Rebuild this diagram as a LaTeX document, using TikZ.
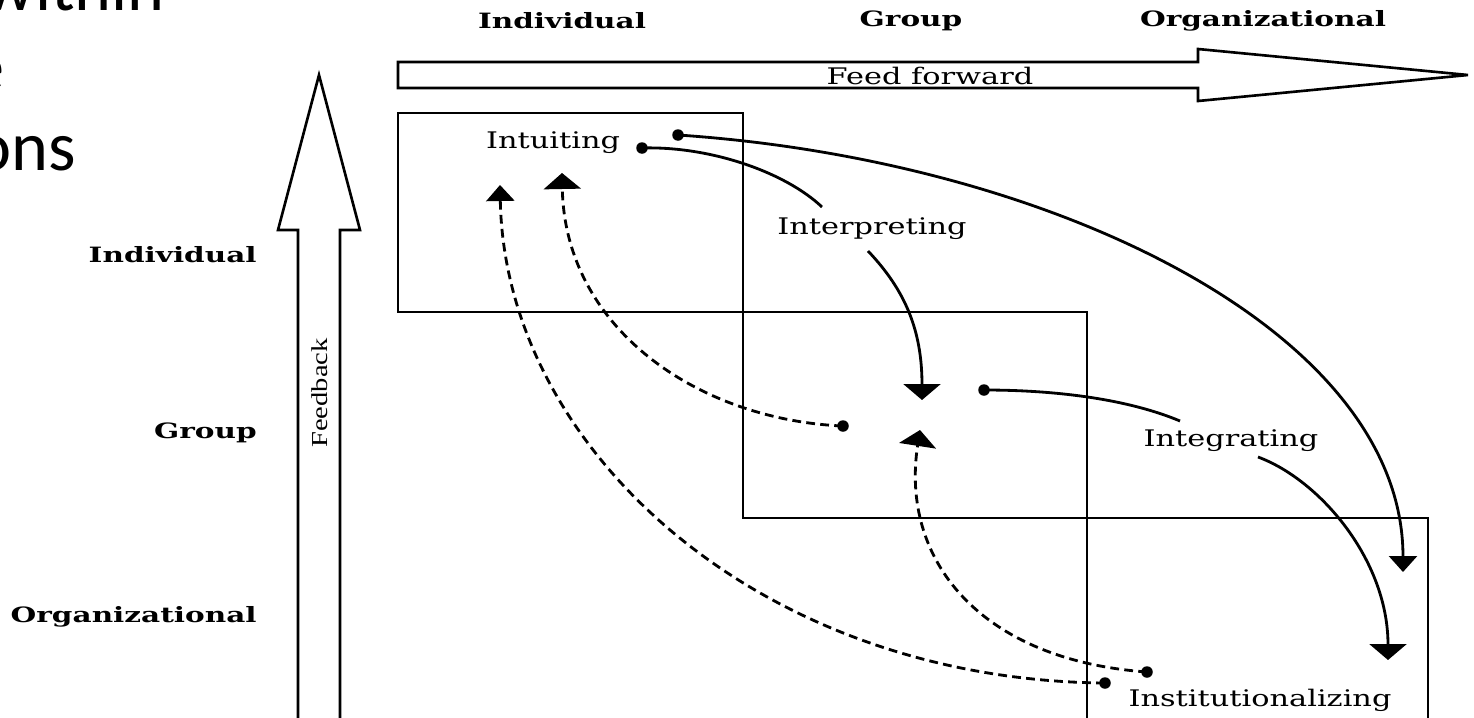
\documentclass[tikz,border=0pt]{standalone}
\usepackage{fontspec}
\usetikzlibrary{arrows.meta}
\newfontfamily\slabfont{DejaVu Serif}
\newfontfamily\slidefont{Carlito}
\newfontfamily\fbfont{Liberation Serif}
\newcommand{\slabtxt}[1]{\scalebox{1.33}[1]{\slabfont #1}}
\newcommand{\slabbold}[1]{\scalebox{1.4}[1]{\slabfont\bfseries #1}}
\begin{document}
\begin{tikzpicture}[x=0.02cm,y=-0.02cm,
  box/.style={draw, line width=1.3pt},
  blockarrow/.style={draw, line width=1.5pt, line join=miter},
  lbl/.style={inner sep=0pt, font=\fontsize{13}{15}\selectfont},
  lvl/.style={inner sep=0pt, font=\fontsize{12}{14}\selectfont},
  frag/.style={inner sep=0pt, anchor=base east, font=\slidefont\fontsize{40}{48}\selectfont},
  dotn/.style={circle, fill=black, inner sep=0pt, minimum size=0.23cm},
  flow/.style={line width=1.6pt},
  dflow/.style={line width=1.6pt, dash pattern=on 5pt off 3pt},
  bigtip/.style={-{Triangle[width=0.74cm,length=0.32cm]}},
  smalltip/.style={-{Triangle[width=0.56cm,length=0.32cm]}},
]
\useasboundingbox (0,0) rectangle (1474,717);
\clip (0,0) rectangle (1474,717);

% slide text fragments
\node[frag] (w1) at (165,10) {within};
\node[frag] (w2) at (5,90) {e};
\node[frag] (w3) at (76,170) {ons};

% level labels
\node[lvl] (tind) at (562,21) {\slabbold{Individual}};
\node[lvl] (tgrp) at (911,21) {\slabbold{Group}};
\node[lvl] (torg) at (1263,21) {\slabbold{Organizational}};
\node[lvl, anchor=east] (lind) at (257,255) {\slabbold{Individual}};
\node[lvl, anchor=east] (lgrp) at (257,433) {\slabbold{Group}};
\node[lvl, anchor=east] (lorg) at (257,617) {\slabbold{Organizational}};

% feed forward arrow
\draw[blockarrow] (398,62) -- (1198,62) -- (1198,49) -- (1468,75) -- (1198,101) -- (1198,88) -- (398,88) -- cycle;
\node[lbl] (ff) at (930,76) {\slabtxt{Feed forward}};

% feedback arrow
\draw[blockarrow] (298,740) -- (298,230) -- (278,230) -- (319,75) -- (360,230) -- (340,230) -- (340,740);
\node[rotate=90, inner sep=0pt, font=\fbfont\fontsize{13}{15}\selectfont] (fb) at (320,393) {\scalebox{1.25}[1]{Feedback}};

% boxes
\draw[box] (398,113) rectangle (743,312);
\draw[box] (743,312) rectangle (1087,518);
\draw[box] (1087,518) rectangle (1428,760);

% process labels
\node[lbl] (intu) at (553,143) {\slabtxt{Intuiting}};
\node[lbl] (interp) at (872,229) {\slabtxt{Interpreting}};
\node[lbl] (integ) at (1231,441) {\slabtxt{Integrating}};
\node[lbl] (inst) at (1260,700) {\slabtxt{Institutionalizing}};

% dots
\node[dotn] (d1) at (642,148) {};
\node[dotn] (d2) at (678,135) {};
\node[dotn] (d4) at (984,390) {};
\node[dotn] (d6) at (843,426) {};
\node[dotn] (d7) at (1105,683) {};
\node[dotn] (d8) at (1147,672) {};

% connector ends
\coordinate (e1) at (822,207);
\coordinate (e2) at (1403,572);
\coordinate (s3) at (868,251);
\coordinate (e3) at (922,400);
\coordinate (e4) at (1180,421);
\coordinate (s5) at (1258,457);
\coordinate (e5) at (1388,660);
\coordinate (e6) at (562,173);
\coordinate (e7) at (500,185);
\coordinate (e8) at (920,430);

% solid feed-forward flows
\draw[flow] (d1.center) .. controls (710,146) and (785,172) .. (e1);
\draw[flow, smalltip] (d2.center) .. controls (1050,160) and (1403,330) .. (e2);
\draw[flow, bigtip] (s3) .. controls (905,290) and (922,330) .. (e3);
\draw[flow] (d4.center) .. controls (1060,390) and (1130,400) .. (e4);
\draw[flow, bigtip] (s5) .. controls (1320,480) and (1388,560) .. (e5);

% dashed feedback flows
\draw[dflow, bigtip] (d6.center) .. controls (700,420) and (565,330) .. (e6);
\draw[dflow, smalltip] (d7.center) .. controls (760,680) and (505,450) .. (e7);
\draw[dflow, bigtip] (d8.center) .. controls (980,660) and (900,560) .. (e8);
\end{tikzpicture}
\end{document}
